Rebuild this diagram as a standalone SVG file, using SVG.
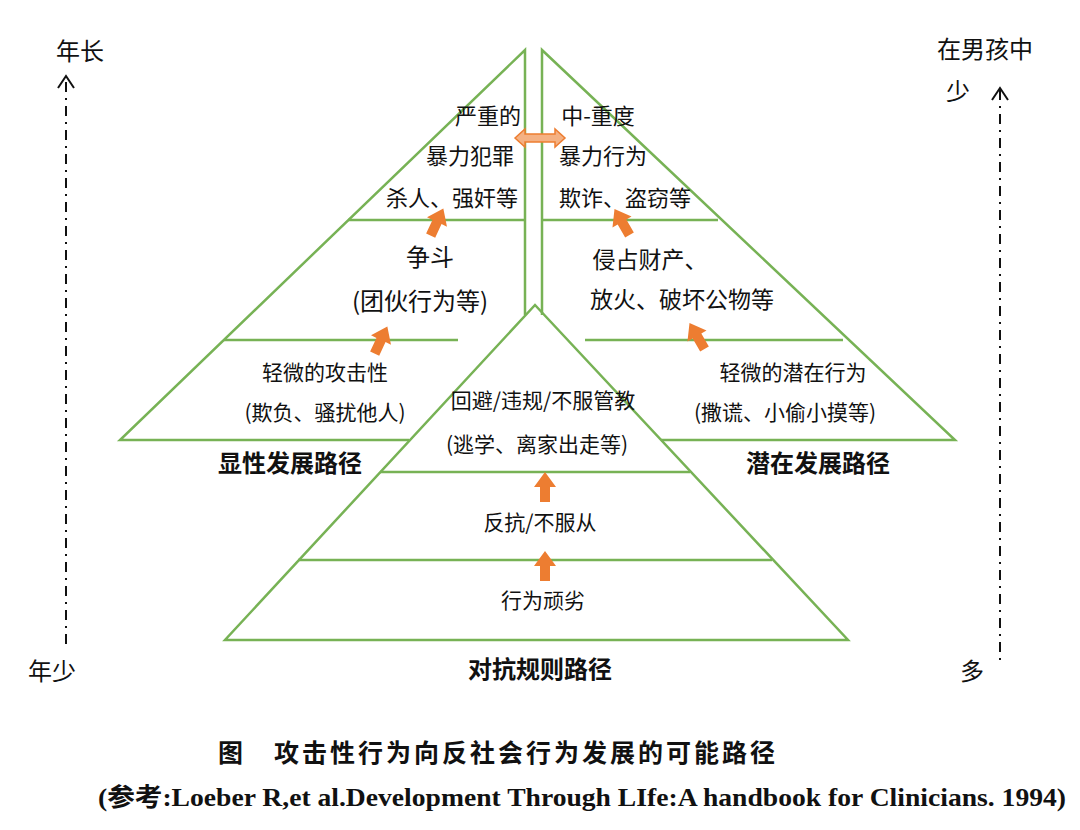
<svg xmlns="http://www.w3.org/2000/svg" width="1080" height="830" viewBox="0 0 1080 830">
<style>
.g{fill:none;stroke:#77b255;stroke-width:2.5}
.t{font-family:"Noto Sans CJK SC",sans-serif;font-size:21px;fill:#111;text-anchor:middle}
.b{font-family:"Noto Sans CJK SC",sans-serif;font-size:24px;font-weight:bold;fill:#111;text-anchor:middle}
.ax{stroke:#111;stroke-width:2;stroke-dasharray:10 6 2 6;fill:none}
.ah{stroke:#111;stroke-width:2;fill:none}
</style>
<defs>
<polygon id="up" points="-5,15 -5,0 -11,0 0,-15 11,0 5,0 5,15" fill="#ed7d31"/>
</defs>
<rect width="1080" height="830" fill="#fff"/>
<g id="left">
<polyline class="g" points="525,315 525,50 120,440 409,440"/>
<line class="g" x1="348" y1="220" x2="525" y2="220"/>
<line class="g" x1="224" y1="340" x2="458" y2="340"/>
<text class="t" x="488" y="124" style="font-size:22px">严重的</text>
<text class="t" x="470" y="164" style="font-size:22px">暴力犯罪</text>
<text class="t" x="452" y="206" style="font-size:22px">杀人、强奸等</text>
<text class="t" x="430" y="266" style="font-size:24px">争斗</text>
<text class="t" x="420" y="310" style="font-size:24px">(团伙行为等)</text>
<text class="t" x="325" y="380">轻微的攻击性</text>
<text class="t" x="325" y="420">(欺负、骚扰他人)</text>
<text class="b" x="290" y="472">显性发展路径</text>
</g>
<g id="right">
<polyline class="g" points="542,315 542,50 955,440 661,440"/>
<line class="g" x1="542" y1="220" x2="718" y2="220"/>
<line class="g" x1="585" y1="340" x2="843" y2="340"/>
<text class="t" x="598" y="124" style="font-size:22px">中-重度</text>
<text class="t" x="603" y="164" style="font-size:22px">暴力行为</text>
<text class="t" x="625" y="206" style="font-size:22px">欺诈、盗窃等</text>
<text class="t" x="650" y="268" style="font-size:23px">侵占财产、</text>
<text class="t" x="682" y="308" style="font-size:23px">放火、破坏公物等</text>
<text class="t" x="793" y="380">轻微的潜在行为</text>
<text class="t" x="785" y="420">(撒谎、小偷小摸等)</text>
<text class="b" x="818" y="472">潜在发展路径</text>
</g>
<g id="center">
<polygon class="g" points="535,305 225,640 848,640"/>
<line class="g" x1="380" y1="472" x2="690" y2="472"/>
<line class="g" x1="298" y1="560" x2="772" y2="560"/>
<text class="t" x="543" y="408">回避/违规/不服管教</text>
<text class="t" x="537" y="452">(逃学、离家出走等)</text>
<text class="t" x="540" y="530">反抗/不服从</text>
<text class="t" x="543" y="608">行为顽劣</text>
<text class="b" x="540" y="678">对抗规则路径</text>
</g>
<g id="connectors">
<use href="#up" transform="translate(545,487)"/>
<use href="#up" transform="translate(545,566)"/>
<use href="#up" transform="translate(381,340) rotate(25)"/>
<use href="#up" transform="translate(437,222) rotate(25)"/>
<use href="#up" transform="translate(697,336) rotate(-30)"/>
<use href="#up" transform="translate(622,222) rotate(-30)"/>
<polygon points="515,138 525,129 525,134 555,134 555,129 565,138 555,147 555,142 525,142 525,147" fill="#f4b183" stroke="#ed7d31" stroke-width="1.5"/>
<line class="ax" x1="66" y1="82" x2="66" y2="648"/>
<polyline class="ah" points="58,88 66,76 74,88"/>
<line class="ax" x1="1000" y1="90" x2="1000" y2="660"/>
<polyline class="ah" points="992,100 1000,88 1008,100"/>
</g>
<g id="labels">
<text class="t" x="80" y="60" style="font-size:24px">年长</text>
<text class="t" x="52" y="680" style="font-size:24px">年少</text>
<text class="t" x="985" y="58" style="font-size:24px">在男孩中</text>
<text class="t" x="958" y="100" style="font-size:24px">少</text>
<text class="t" x="972" y="680" style="font-size:24px">多</text>
<text x="218" y="762" textLength="557" style="font-family:'Noto Sans CJK SC',sans-serif;font-size:25px;font-weight:bold;fill:#111">图　攻击性行为向反社会行为发展的可能路径</text>
<text x="98" y="806" textLength="968" lengthAdjust="spacingAndGlyphs" style="font-family:'Liberation Serif','Noto Sans CJK SC',serif;font-size:25px;font-weight:bold;fill:#111">(参考:Loeber R,et al.Development Through LIfe:A handbook for Clinicians. 1994)</text>
</g>
</svg>
